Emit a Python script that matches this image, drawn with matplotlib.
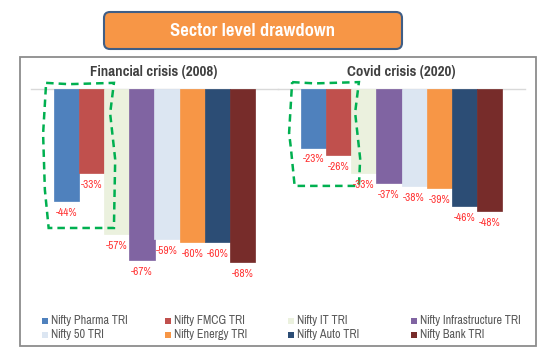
import matplotlib
matplotlib.use('Agg')
import matplotlib.pyplot as plt
from matplotlib.patches import FancyBboxPatch, Rectangle, Polygon
from matplotlib import font_manager

# data
sectors = ['Nifty Pharma TRI', 'Nifty FMCG TRI', 'Nifty IT TRI', 'Nifty Infrastructure TRI',
           'Nifty 50 TRI', 'Nifty Energy TRI', 'Nifty Auto TRI', 'Nifty Bank TRI']
colors = ['#4F81BD', '#C0504D', '#EBF1DE', '#8064A2',
          '#DCE6F2', '#F79646', '#2C4D75', '#772C2A']
gfc_2008 = [-44, -33, -57, -67, -59, -60, -60, -68]
covid_2020 = [-23, -26, -33, -37, -38, -39, -46, -48]
panel_titles = ['Financial crisis (2008)', 'Covid crisis (2020)']
chart_title = 'Sector level drawdown'

# pick an Arial Narrow look-alike
available = {f.name for f in font_manager.fontManager.ttflist}
narrow = 'DejaVu Sans'
for cand in ['Liberation Sans Narrow', 'Arial Narrow', 'Pragati Narrow',
             'Roboto Condensed', 'Archivo Narrow']:
    if cand in available:
        narrow = cand
        break
FONT = [narrow, 'DejaVu Sans']
plt.rcParams['font.family'] = FONT

W, H = 554, 356
fig = plt.figure(figsize=(W / 100, H / 100), dpi=100)
fig.patch.set_facecolor('white')

# outer frame and title box (inches)
frame = Rectangle((0.20, 0.10), 5.16, 2.89, transform=fig.dpi_scale_trans,
                  fill=False, edgecolor='#8C8C8C', linewidth=1.3)
fig.add_artist(frame)
title_box = FancyBboxPatch((1.04, 3.07), 2.98, 0.37, transform=fig.dpi_scale_trans,
                           boxstyle='round,pad=0,rounding_size=0.06',
                           facecolor='#F79646', edgecolor='#3F5E86', linewidth=1.5)
fig.add_artist(title_box)
fig.text(2.53 / 5.54, 1 - 31 / H, chart_title, color='white', fontsize=14.5,
         fontweight='bold', ha='center', va='center')


def draw_panel(left_px, values, title, box):
    ax = fig.add_axes([left_px / W, 1 - 293 / H, 247 / W, 204 / H])
    x = list(range(len(values)))
    ax.bar(x, values, width=1.0, color=colors, edgecolor=colors, linewidth=0.5)
    ax.set_xlim(-1.4, 8.4)
    ax.set_ylim(-80, 0)
    ax.axhline(0, color='#D9D9D9', linewidth=1.0, clip_on=False, zorder=0)
    for i, v in enumerate(values):
        ax.annotate(f'{v}%', (i, v), xytext=(0, -8.5), textcoords='offset points',
                    ha='center', va='center', color='#FF3333', fontsize=8.8)
    ax.axis('off')
    # hand drawn highlight around pharma and fmcg
    x0, x1, y0, y1 = box
    pts = [(x0, y1), (x0 + 0.9, y1 - 0.5), (x1, y1), (x1 - 0.15, y1 - 12),
           (x1 + 0.05, y1 - 30), (x1, y0), (x0 + 0.1, y0), (x0 - 0.05, y0 + 15),
           (x0 - 0.12, y1 - 20), (x0, y1)]
    ax.add_patch(Polygon(pts, closed=True, fill=False, edgecolor='#00B050',
                         linestyle=(0, (3, 2)), linewidth=1.8, clip_on=False))
    fig.text((left_px + 123) / W, 1 - 72 / H, title, ha='center', va='center',
             fontsize=11.7, fontweight='bold', color='#404040')
    return ax


draw_panel(31, gfc_2008, panel_titles[0], (-0.8, 1.89, -54.5, 2.4))
draw_panel(278, covid_2020, panel_titles[1], (-0.84, 1.81, -38, 2.7))

# legend, 4 columns x 2 rows
for i, (name, c) in enumerate(zip(sectors, colors)):
    col, row = i % 4, i // 4
    mx = 45 + col * 123
    my = 321 + row * 13.5
    fig.add_artist(Rectangle(((mx - 3) / W, 1 - (my + 3) / H), 6 / W, 6 / H,
                             transform=fig.transFigure, facecolor=c, edgecolor='none'))
    fig.text((mx + 6) / W, 1 - my / H, name, ha='left', va='center',
             fontsize=9.5, color='#595959')

fig.savefig('out.png', dpi=100)
